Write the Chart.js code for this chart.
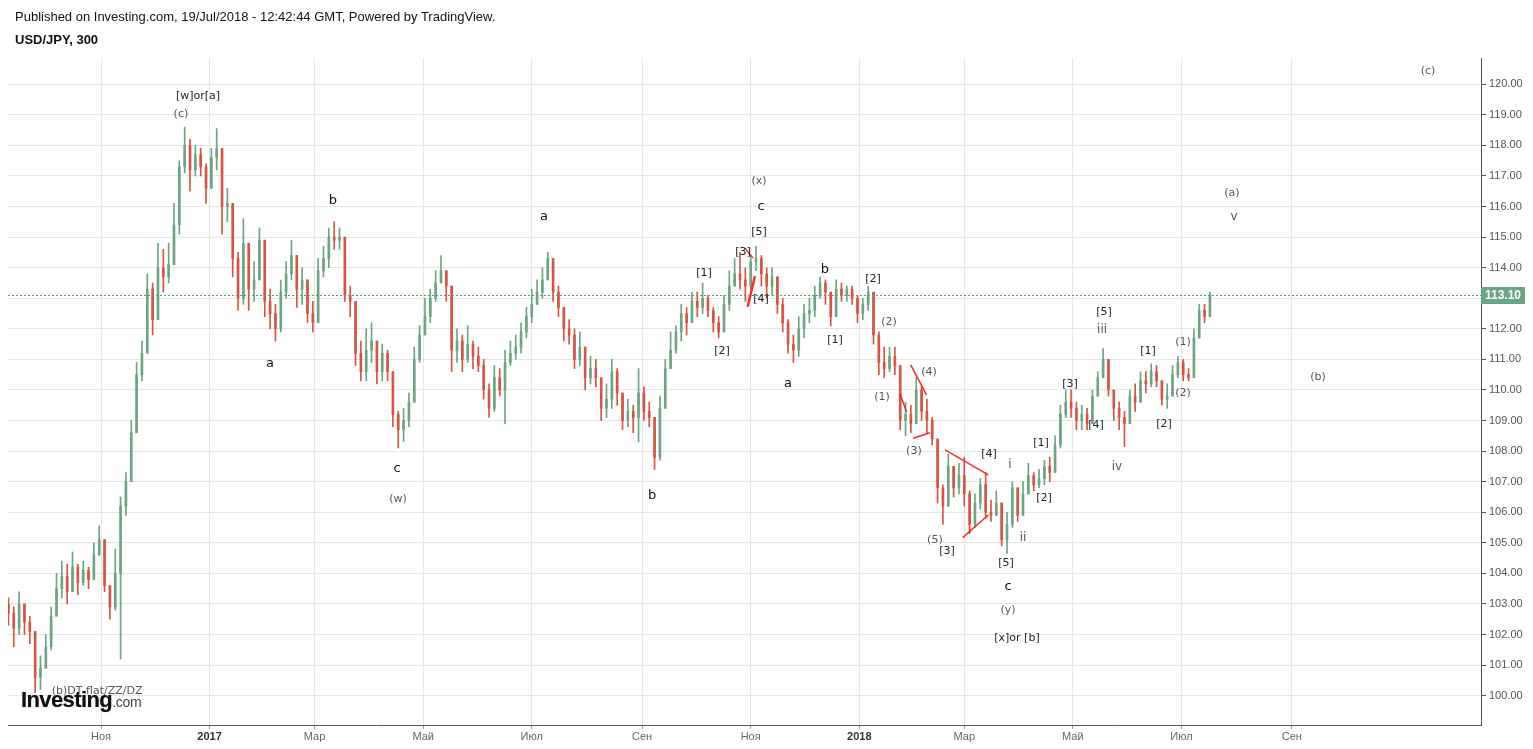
<!DOCTYPE html>
<html>
<head>
<meta charset="utf-8">
<script src="https://cdn.jsdelivr.net/npm/chart.js@4.4.0/dist/chart.umd.min.js"></script>
<style>
  html, body { margin: 0; padding: 0; background: #fff; overflow: hidden; }
  #wrap { position: relative; width: 1533px; height: 749px; }
  canvas { position: absolute; left: 0; top: 0; }
  .hdr { position: absolute; left: 15px; font-family: 'Liberation Sans', Arial, sans-serif; font-size: 13px; color: #111; white-space: nowrap; }
  #logo { position: absolute; left: 21px; top: 689px; font-family: 'Liberation Sans', Arial, sans-serif; line-height: 1; white-space: nowrap; }
</style>
</head>
<body>
<div id="wrap">
  <canvas id="myChart" width="1533" height="749"></canvas>
  <div class="hdr" style="top:9px">Published on Investing.com, 19/Jul/2018 - 12:42:44 GMT, Powered by TradingView.</div>
  <div class="hdr" style="top:32px;font-weight:bold">USD/JPY, 300</div>
  <div id="logo"><span style="font-size:22px;font-weight:bold;color:#111;letter-spacing:-0.6px;text-shadow:0 0 1px #888">Investing</span><span style="font-size:14px;color:#444;letter-spacing:-0.3px">.com</span></div>
</div>

<script>
// x values are days counted from 1 Sep 2016, one candle every 3 days
const firstDay = 9
const stepDays = 3
const firstOpen = 103.0

const closes = [
  102.7, 102.2, 103.0, 102.4, 102.1, 100.6, 100.9, 101.6, 102.6, 103.5,
  103.9, 103.4, 104.2, 103.7, 104.1, 103.8, 104.6, 105.1, 103.6, 102.9,
  104.0, 106.2, 107.0, 108.6, 110.5, 111.2, 113.3, 112.3, 114.0, 113.7,
  114.1, 115.4, 117.3, 118.0, 117.2, 117.7, 117.3, 116.6, 117.6, 117.9,
  116.0, 116.1, 114.3, 113.0, 114.8, 113.3, 113.6, 114.9, 112.9, 112.5,
  112.0, 113.2, 113.8, 114.4, 113.3, 113.6, 112.5, 112.2, 113.9, 114.3,
  115.0, 114.9, 115.0, 113.1, 112.9, 111.2, 110.6, 111.3, 111.6, 110.6,
  111.2, 110.6, 109.2, 108.7, 109.0, 109.6, 111.0, 111.8, 112.4, 113.0,
  113.5, 113.9, 113.4, 111.3, 111.6, 111.0, 111.5, 111.1, 110.8, 110.0,
  109.4, 110.4, 110.0, 110.9, 111.2, 111.4, 111.9, 112.4, 112.8, 113.2,
  113.6, 114.3, 113.2, 112.7, 112.0, 111.8, 111.0, 111.4, 110.4, 110.7,
  110.4, 109.4, 109.7, 110.6, 109.9, 109.0, 109.3, 109.1, 109.9, 109.3,
  109.1, 107.8, 109.4, 110.7, 111.3, 111.9, 112.5, 112.2, 112.9, 112.7,
  113.0, 112.6, 112.2, 111.9, 112.8, 113.4, 113.8, 113.6, 113.4, 114.2,
  114.3, 113.8, 113.4, 113.7, 112.8, 112.2, 111.5, 111.3, 112.0, 112.5,
  112.6, 113.1, 113.5, 113.2, 112.4, 113.3, 113.1, 113.3, 113.0, 112.5,
  112.8, 113.2, 111.8, 110.9, 110.7, 111.1, 110.8, 109.0, 109.2, 108.9,
  110.0, 109.3, 109.0, 108.4, 106.8, 106.2, 107.5, 106.8, 107.2, 106.6,
  105.6, 106.3, 106.9, 106.0, 105.9, 106.3, 105.1, 105.6, 106.8, 105.9,
  106.6, 107.2, 106.9, 107.1, 107.5, 107.3, 108.2, 109.2, 109.6, 109.4,
  109.0, 109.2, 108.9, 109.8, 110.4, 111.0, 110.0, 109.4, 109.1, 108.9,
  109.8, 109.6, 110.3, 110.2, 110.6, 110.3, 109.7, 109.8, 110.5, 110.9,
  110.5, 110.4, 111.7, 112.6, 112.4, 113.1
]

const highs = [
  103.2, 102.9, 103.4, 103.0, 102.6, 101.9, 101.3, 102.0, 102.9, 104.0,
  104.4, 104.3, 104.7, 104.3, 104.4, 104.2, 105.0, 105.55, 105.1, 103.6,
  104.8, 106.5, 107.3, 109.0, 110.9, 111.6, 113.8, 113.5, 114.8, 114.6,
  114.8, 116.1, 117.5, 118.6, 118.2, 118.0, 117.9, 117.4, 117.9, 118.55,
  117.6, 116.6, 115.7, 114.5, 115.6, 114.6, 114.2, 115.3, 114.3, 113.3,
  112.8, 113.6, 114.2, 114.9, 114.4, 114.0, 113.4, 112.9, 114.3, 114.7,
  115.3, 115.5, 115.3, 115.0, 113.4, 112.4, 111.6, 112.0, 112.2, 111.6,
  111.5, 111.3, 110.4, 109.3, 109.4, 109.9, 111.4, 112.1, 113.0, 113.3,
  113.9, 114.4, 113.9, 113.3, 112.0, 111.8, 112.1, 111.6, 111.4, 111.0,
  110.2, 110.8, 110.7, 111.3, 111.6, 111.8, 112.2, 112.7, 113.3, 113.6,
  114.0, 114.5, 114.2, 113.4, 112.6, 112.3, 112.0, 111.9, 111.2, 111.1,
  111.0, 110.4, 110.2, 111.0, 110.7, 109.8, 109.7, 109.5, 110.7, 110.1,
  109.6, 108.9, 109.8, 111.0, 111.9, 112.1, 112.8, 112.7, 113.2, 113.2,
  113.5, 113.1, 112.7, 112.4, 113.1, 113.9, 114.3, 114.5, 114.0, 114.4,
  114.7, 114.4, 114.0, 114.0, 113.5, 113.0, 112.3, 111.8, 112.4, 112.8,
  113.0, 113.4, 113.7, 113.6, 113.2, 113.6, 113.5, 113.4, 113.4, 113.1,
  113.0, 113.4, 113.2, 111.9, 111.4, 111.4, 111.4, 110.5, 109.6, 109.5,
  110.4, 110.1, 109.7, 109.1, 108.4, 106.9, 107.9, 107.5, 107.6, 107.8,
  106.7, 106.6, 107.1, 107.3, 106.4, 106.7, 106.2, 106.0, 107.0, 106.6,
  107.0, 107.6, 107.3, 107.4, 107.7, 107.8, 108.5, 109.5, 110.0, 110.0,
  109.6, 109.5, 109.4, 110.0, 110.6, 111.35, 111.0, 109.9, 109.6, 109.3,
  110.0, 110.2, 110.6, 110.6, 110.85, 110.8, 110.3, 110.2, 110.8, 111.1,
  111.0, 110.7, 112.0, 112.8, 112.8, 113.2
]

const lows = [
  102.3, 101.6, 102.0, 102.0, 101.7, 100.1, 100.2, 100.9, 101.5, 102.6,
  103.2, 103.0, 103.6, 103.3, 103.6, 103.5, 104.0, 104.6, 103.4, 102.5,
  102.8, 101.2, 105.9, 107.4, 108.6, 110.3, 111.4, 111.8, 113.0, 113.2,
  113.5, 114.3, 115.1, 117.1, 116.5, 117.0, 117.0, 116.1, 116.8, 117.2,
  115.1, 115.5, 113.7, 112.6, 112.8, 112.6, 112.9, 113.8, 112.4, 112.0,
  111.6, 111.9, 113.0, 113.6, 112.7, 112.8, 112.2, 111.9, 112.4, 113.7,
  114.0, 114.6, 114.6, 112.9, 112.4, 110.8, 110.3, 110.3, 110.9, 110.2,
  110.3, 110.3, 108.8, 108.1, 108.3, 108.8, 109.6, 110.9, 111.9, 112.2,
  112.9, 113.5, 112.9, 110.6, 110.9, 110.6, 110.9, 110.7, 110.6, 109.7,
  109.1, 109.3, 109.8, 108.9, 110.8, 111.0, 111.2, 111.7, 112.2, 112.8,
  113.0, 113.6, 112.9, 112.4, 111.6, 111.5, 110.7, 110.8, 110.0, 110.2,
  110.1, 109.0, 109.1, 109.4, 109.5, 108.7, 108.8, 108.6, 108.3, 109.0,
  108.8, 107.4, 107.7, 109.4, 110.7, 111.2, 111.6, 111.8, 112.3, 112.4,
  112.5, 112.4, 111.9, 111.7, 111.9, 112.6, 113.4, 113.3, 112.9, 113.3,
  113.9, 113.4, 113.0, 113.1, 112.5, 111.9, 111.2, 110.9, 111.1, 111.7,
  112.2, 112.4, 113.0, 112.8, 112.1, 112.5, 112.9, 112.9, 112.8, 112.2,
  112.3, 112.6, 111.5, 110.5, 110.4, 110.6, 110.5, 108.7, 108.5, 108.6,
  108.9, 109.0, 108.6, 108.2, 106.3, 105.6, 106.2, 106.5, 106.6, 106.2,
  105.3, 105.5, 106.1, 105.8, 105.7, 105.9, 104.9, 104.65, 105.5, 105.7,
  105.9, 106.7, 106.7, 106.8, 106.9, 107.0, 107.4, 108.1, 109.1, 109.1,
  108.7, 108.7, 108.7, 109.0, 109.8, 110.4, 109.8, 109.0, 108.7, 108.15,
  108.9, 109.3, 109.6, 109.9, 110.1, 110.1, 109.5, 109.4, 109.8, 110.4,
  110.3, 110.3, 110.4, 111.7, 112.2, 112.4
]

// axis ticks
const monthDays = [61, 122, 181, 242, 303, 365, 426, 487, 546, 607, 668, 730]
const monthLabels = ['Ноя', '2017', 'Мар', 'Май', 'Июл', 'Сен', 'Ноя', '2018', 'Мар', 'Май', 'Июл', 'Сен']
const priceTicks = [100, 101, 102, 103, 104, 105, 106, 107, 108, 109, 110, 111, 112, 113, 114, 115, 116, 117, 118, 119, 120]

// wave count labels: [day, price, text]
const waveLabels = [
  [115.5, 119.62, '[w]or[a]'],
  [105.9, 119.03, '(c)'],
  [191.3, 116.18, 'b'],
  [155.9, 110.85, 'a'],
  [227.3, 107.42, 'c'],
  [227.9, 106.43, '(w)'],
  [309.9, 115.66, 'a'],
  [370.6, 106.53, 'b'],
  [430.7, 116.84, '(x)'],
  [431.8, 115.99, 'c'],
  [430.7, 115.17, '[5]'],
  [421.7, 114.51, '[3]'],
  [399.8, 113.83, '[1]'],
  [409.9, 111.28, '[2]'],
  [431.8, 112.98, '[4]'],
  [467.7, 113.93, 'b'],
  [447.0, 110.20, 'a'],
  [473.4, 111.64, '[1]'],
  [494.7, 113.63, '[2]'],
  [503.7, 112.22, '(2)'],
  [499.8, 109.77, '(1)'],
  [526.2, 110.59, '(4)'],
  [517.7, 108.01, '(3)'],
  [529.5, 105.10, '(5)'],
  [536.3, 104.73, '[3]'],
  [559.9, 107.91, '[4]'],
  [571.7, 107.55, 'i'],
  [579.0, 105.16, 'ii'],
  [569.4, 104.34, '[5]'],
  [570.6, 103.56, 'c'],
  [570.6, 102.80, '(y)'],
  [575.6, 101.89, '[x]or [b]'],
  [589.1, 108.27, '[1]'],
  [590.8, 106.47, '[2]'],
  [605.4, 110.20, '[3]'],
  [620.0, 108.86, '[4]'],
  [624.5, 112.55, '[5]'],
  [623.4, 111.96, 'iii'],
  [631.8, 107.48, 'iv'],
  [649.2, 111.28, '[1]'],
  [658.2, 108.89, '[2]'],
  [668.9, 111.57, '(1)'],
  [668.9, 109.90, '(2)'],
  [696.4, 116.44, '(a)'],
  [697.5, 115.66, 'v'],
  [744.7, 110.43, '(b)'],
  [806.5, 120.44, '(c)'],
  [58.8, 100.16, '(b)DT flat/ZZ/DZ']
]

// red trend lines: [day1, price1, day2, price2]
const trendLines = [
  [422.8, 114.64, 427.3, 114.32],
  [424.3, 112.72, 428.4, 113.73],
  [515.9, 110.82, 524.8, 109.84],
  [517.3, 108.42, 526.7, 108.60],
  [509.9, 109.87, 513.6, 109.28],
  [535.2, 108.04, 559.5, 107.22],
  [545.1, 105.17, 559.5, 105.91]
]

const UP = '#6ba583'
const DOWN = '#d75442'

const wicks = [], bodies = [], colors = []
closes.forEach((c, i) => {
  const o = i === 0 ? firstOpen : closes[i - 1]
  const x = firstDay + i * stepDays
  wicks.push({ x: x, y: [Math.min(lows[i], o, c), Math.max(highs[i], o, c)] })
  bodies.push({ x: x, y: [o, c] })
  colors.push(c >= o ? UP : DOWN)
})

const lineSets = trendLines.map((t, i) => ({
  type: 'line',
  data: [{ x: t[0], y: t[1] }, { x: t[2], y: t[3] }],
  borderColor: 'rgba(255,20,20,0.9)',
  borderWidth: i === 1 ? 2.5 : 1.5,
  pointRadius: 0,
  order: 0
}))

const overlay = {
  id: 'overlay',
  afterDatasetsDraw(chart) {
    const { ctx, chartArea } = chart
    const xs = chart.scales.x, ys = chart.scales.y
    const last = closes[closes.length - 1]
    const py = Math.round(ys.getPixelForValue(last)) + 0.5
    ctx.save()
    ctx.beginPath()
    ctx.rect(chartArea.left, chartArea.top, chartArea.right - chartArea.left, chartArea.bottom - chartArea.top)
    ctx.clip()
    ctx.strokeStyle = '#4fa077'
    ctx.lineWidth = 1
    ctx.setLineDash([2, 2])
    ctx.beginPath()
    ctx.moveTo(chartArea.left, py)
    ctx.lineTo(chartArea.right, py)
    ctx.stroke()
    ctx.setLineDash([])

    ctx.textAlign = 'center'
    ctx.textBaseline = 'middle'
    waveLabels.forEach(([d, p, t]) => {
      let size = 11, color = '#222'
      if (/^[abc]$/.test(t)) { size = 13; color = '#111' }
      else if (t[0] === '(') { color = '#555' }
      else if (/^[iv]+$/.test(t)) { size = 12; color = '#555' }
      ctx.font = size + 'px "DejaVu Sans", Verdana, sans-serif'
      ctx.fillStyle = color
      ctx.fillText(t, xs.getPixelForValue(d), ys.getPixelForValue(p))
    })
    ctx.restore()

    // last price box on the axis
    ctx.save()
    ctx.fillStyle = UP
    ctx.fillRect(chartArea.right, py - 8.5, 44, 17)
    ctx.fillStyle = '#fff'
    ctx.font = 'bold 12px "Liberation Sans", Arial, sans-serif'
    ctx.textAlign = 'center'
    ctx.textBaseline = 'middle'
    ctx.fillText(last.toFixed(2), chartArea.right + 22, py + 0.5)
    ctx.restore()
  }
}

new Chart(document.getElementById('myChart'), {
  type: 'bar',
  data: {
    datasets: [
      {
        data: wicks,
        backgroundColor: colors,
        barThickness: 1,
        grouped: false,
        order: 2
      },
      {
        data: bodies,
        backgroundColor: colors,
        barThickness: 2,
        minBarLength: 1,
        grouped: false,
        order: 1
      },
      ...lineSets
    ]
  },
  options: {
    responsive: false,
    animation: false,
    devicePixelRatio: 1,
    layout: { padding: { left: 8, top: 58, right: 0, bottom: 0 } },
    plugins: { legend: { display: false }, tooltip: { enabled: false } },
    scales: {
      x: {
        type: 'linear',
        min: 8.75,
        max: 836.3,
        offset: false,
        grid: { color: '#e6e6e6', tickColor: '#999', tickLength: 4, offset: false },
        border: { color: '#555' },
        afterBuildTicks: s => { s.ticks = monthDays.map(v => ({ value: v })) },
        afterFit: s => { s.height = 24 },
        ticks: {
          autoSkip: false,
          maxRotation: 0,
          padding: 1,
          color: c => /^\d/.test(monthLabels[c.index]) ? '#333' : '#666',
          font: c => ({ family: '"Liberation Sans", Arial, sans-serif', size: 11, weight: /^\d/.test(monthLabels[c.index]) ? 'bold' : 'normal' }),
          callback: (v, i) => monthLabels[i]
        }
      },
      y: {
        position: 'right',
        min: 99.04,
        max: 120.86,
        grid: { color: '#e6e6e6', tickColor: '#555', tickLength: 5 },
        border: { color: '#555' },
        afterBuildTicks: s => { s.ticks = priceTicks.map(v => ({ value: v })) },
        afterFit: s => { s.width = 52 },
        ticks: {
          autoSkip: false,
          padding: 3,
          color: '#555',
          font: { family: '"Liberation Sans", Arial, sans-serif', size: 11 },
          callback: v => Number(v).toFixed(2)
        }
      }
    }
  },
  plugins: [overlay]
})
</script>
</body>
</html>
